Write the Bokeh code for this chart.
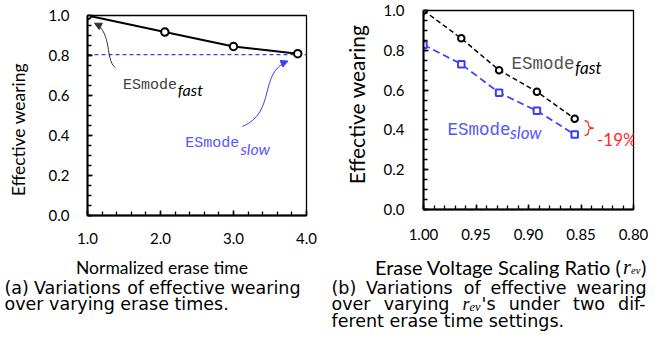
import numpy as np
from bokeh.plotting import figure
from bokeh.layouts import row, column
from bokeh.models import Range1d, FixedTicker, PrintfTickFormatter, Label, Arrow, NormalHead
from bokeh.core.properties import value
from bokeh.embed import file_html
from bokeh.resources import INLINE

# ---------------- data ----------------
erase_time = [1.0, 2.06, 3.0, 3.88]
wear_vs_time = [1.0, 0.917, 0.845, 0.809]
wear_slow_level = 0.804

r_ev = [1.00, 0.964, 0.928, 0.892, 0.856]
wear_fast = [1.00, 0.86, 0.70, 0.592, 0.456]
wear_slow = [0.828, 0.73, 0.587, 0.496, 0.377]

a_xticks = [1.0, 2.0, 3.0, 4.0]
b_xticks = [1.00, 0.95, 0.90, 0.85, 0.80]
y_ticks = [0.0, 0.2, 0.4, 0.6, 0.8, 1.0]
drop_label = "-19%"
y_title = "Effective wearing"

caption_a_l1 = ["(a)", "Variations", "of", "effective", "wearing"]
caption_a_l2 = "over varying erase times."
caption_b_l1 = ["(b)", "Variations", "of", "effective", "wearing"]
caption_b_l2 = ["over", "varying", "r|ev|'s", "under", "two", "dif-"]
caption_b_l3 = "ferent erase time settings."

# ---------------- layout constants (pixel coords of the picture) ----------------
DX = -14                      # panel (b) is moved left so that it fits the 648px page
FA = dict(l=87, r=306, t=15, b=215)
FB = dict(l=437 + DX, r=647 + DX, t=10, b=209)
SPLIT_A, SPLIT_B = 250, 246
COL_A, TOTAL_W, TOTAL_H = 330, 648, 337

BLUE = "#3c3cff"
TXT_BLUE = "#5656ff"
RED = "#ff2a2a"
TICK_FONT = "Lato"
CAP_FONT = "DejaVu Sans"
CAP_SIZE = 17.5


# reading scales (pixel of reference -> data) used for in-plot annotations
def ax_(px):
    return 1 + 3 * (px - 87.3) / (306 - 87.3)


def ay_(py):
    return (215 - py) / 200.0


def bx_(px):
    return 1 - 0.2 * (px - 437) / 210.0


def by_(py):
    return (209.3 - py) / 200.0


def style(p, xticks, xminor, xfmt, size, xstand, ystand):
    p.xgrid.visible = False
    p.ygrid.visible = False
    p.outline_line_color = "black"
    p.outline_line_width = 1.3
    p.background_fill_color = "white"
    p.border_fill_color = "white"
    p.xaxis.ticker = FixedTicker(ticks=xticks, minor_ticks=xminor)
    p.yaxis.ticker = FixedTicker(ticks=y_ticks, minor_ticks=list(np.round(np.arange(0, 1.0001, 0.05), 2)))
    p.xaxis.formatter = PrintfTickFormatter(format=xfmt)
    p.yaxis.formatter = PrintfTickFormatter(format="%.1f")
    for axis, stand in ((p.xaxis[0], xstand), (p.yaxis[0], ystand)):
        axis.axis_label = None
        axis.axis_label_standoff = 0
        axis.axis_line_width = 2
        axis.axis_line_color = "black"
        axis.major_tick_in = 5
        axis.major_tick_out = 0
        axis.minor_tick_in = 4
        axis.minor_tick_out = 0
        axis.major_tick_line_width = 1.5
        axis.minor_tick_line_width = 1.3
        axis.major_tick_line_color = "black"
        axis.minor_tick_line_color = "black"
        axis.major_label_text_font = TICK_FONT
        axis.major_label_text_font_size = size
        axis.major_label_text_color = "black"
        axis.major_label_standoff = stand


def chart(ox, oy, w, h, F, xr):
    return figure(width=w, height=h, x_range=xr, y_range=Range1d(0, 1),
                  output_backend="svg", toolbar_location=None,
                  min_border_left=F["l"] - ox, min_border_right=ox + w - F["r"],
                  min_border_top=F["t"] - oy, min_border_bottom=oy + h - F["b"])


class Blank:
    """A figure whose frame is its whole canvas; coordinates given in picture pixels."""

    def __init__(self, ox, oy, w, h):
        self.ox, self.oy, self.h = ox, oy, h
        self.p = figure(width=w, height=h, x_range=Range1d(0, w), y_range=Range1d(0, h),
                        output_backend="svg", toolbar_location=None,
                        x_axis_location=None, y_axis_location=None,
                        min_border_left=0, min_border_right=0, min_border_top=0, min_border_bottom=0)
        self.p.grid.visible = False
        self.p.outline_line_color = None
        self.p.background_fill_color = "white"
        self.p.border_fill_color = "white"

    def put(self, px, py, text, font=CAP_FONT, size=CAP_SIZE, color="black", style_="normal",
            align="left", baseline="alphabetic", angle=0.0):
        self.p.text(x=[px - self.ox], y=[self.oy + self.h - py], text=[text],
                    text_font=value(font), text_font_size=value(f"{size}px"),
                    text_color=color, text_font_style=value(style_), text_align=value(align),
                    text_baseline=value(baseline), angle=angle)


# DejaVu Sans advance widths (1/1000 em)
AW = {' ': 318, '(': 390, ')': 390, 'a': 613, 'b': 635, 'c': 550, 'd': 635, 'e': 615, 'f': 352,
      'g': 635, 'i': 278, 'm': 974, 'n': 634, 'o': 612, 'r': 411, 's': 521, 't': 392, 'u': 634,
      'v': 592, 'w': 818, 'y': 592, 'V': 684, '.': 318, "'": 275, '-': 361}
R_SIZE, SUB_SIZE = 18, 12.5


def tw(s, size=CAP_SIZE):
    return sum(AW[c] for c in s) * size / 1000.0


def word_w(word):
    if "|" in word:
        r, sub, rest = word.split("|")
        return 389 * R_SIZE / 1000 + 888 * SUB_SIZE / 1000 + 1 + tw(rest)
    return tw(word)


def add_justified(b, words, left, right, base):
    widths = [word_w(w) for w in words]
    gap = (right - left - sum(widths)) / (len(words) - 1)
    x = left
    for w, wd in zip(words, widths):
        if "|" in w:
            r, sub, rest = w.split("|")
            b.put(x, base, r, font="Liberation Serif", size=R_SIZE, style_="italic")
            xs = x + 389 * R_SIZE / 1000
            b.put(xs, base + 3, sub, font="Liberation Serif", size=SUB_SIZE, style_="italic")
            xs += 888 * SUB_SIZE / 1000 + 1
            b.put(xs, base, rest)
        else:
            b.put(x, base, w)
        x += wd + gap


def note(p, x, y, text, font, size, color="black", style_="normal"):
    p.add_layout(Label(x=x, y=y, text=text, text_font=font, text_font_size=f"{size}px",
                       text_color=color, text_font_style=style_, text_baseline="alphabetic"))


# ---------------- figure (a) ----------------
SA_W = 36
sa = Blank(0, 0, SA_W, SPLIT_A)
pa = chart(SA_W, 0, COL_A - SA_W, SPLIT_A, FA, Range1d(1, 4))
style(pa, a_xticks, list(np.round(np.arange(1, 4.001, 0.2), 2)), "%.1f", "15px", 17, 18)

pa.line([a_xticks[0], a_xticks[-1]], [wear_slow_level, wear_slow_level], line_color=BLUE,
        line_width=1.2, line_dash="4 3")
pa.line(erase_time, wear_vs_time, line_color="black", line_width=2)
pa.scatter(erase_time, wear_vs_time, size=7.5, marker="circle", fill_color="white",
           line_color="black", line_width=2)

pa.bezier(x0=[ax_(115)], y0=[ay_(67)], x1=[ax_(95)], y1=[ay_(23)],
          cx0=[ax_(105)], cy0=[ay_(60)], cx1=[ax_(112)], cy1=[ay_(32)],
          line_color="#333333", line_width=1)
pa.add_layout(Arrow(end=NormalHead(size=7, fill_color="#333333", line_color="#333333"),
                    x_start=ax_(100), y_start=ay_(25.6), x_end=ax_(94.3), y_end=ay_(22.7),
                    line_alpha=0))
pa.bezier(x0=[ax_(242)], y0=[ay_(126)], x1=[ax_(287)], y1=[ay_(61)],
          cx0=[ax_(276)], cy0=[ay_(112)], cx1=[ax_(258)], cy1=[ay_(72)],
          line_color=BLUE, line_width=1)
pa.add_layout(Arrow(end=NormalHead(size=7, fill_color=BLUE, line_color=BLUE),
                    x_start=ax_(281), y_start=ay_(63.3), x_end=ax_(287.5), y_end=ay_(60.6),
                    line_alpha=0))

note(pa, ax_(122.7), ay_(85), "ESmode", "Liberation Mono", 15, "#404040")
note(pa, ax_(177.5), ay_(88.5), "fast", "Lato", 16, "black", "italic")
note(pa, ax_(185), ay_(143.3), "ESmode", "Liberation Mono", 15, TXT_BLUE)
note(pa, ax_(240), ay_(148), "slow", "Lato", 16, TXT_BLUE, "italic")

sa.put(17.5, 129, y_title, font="Lato", size=17.5, align="center",
       baseline="middle", angle=np.pi / 2)

ca = Blank(0, SPLIT_A, COL_A, TOTAL_H - SPLIT_A)
ca.put(161.5, 267, "Normalized erase time", font="Lato", size=17.5, align="center")
add_justified(ca, caption_a_l1, 4, 300, 287)
ca.put(4, 303.5, caption_a_l2)

# ---------------- figure (b) ----------------
SB_W = 42
sb = Blank(COL_A, 0, SB_W, SPLIT_B)
pb = chart(COL_A + SB_W, 0, TOTAL_W - COL_A - SB_W, SPLIT_B, FB, Range1d(1.0, 0.8))
style(pb, b_xticks, list(np.round(np.arange(0.8, 1.0001, 0.01), 2)), "%.2f", "15px", 19, 19)

pb.line(r_ev, wear_fast, line_color="black", line_width=1.5, line_dash="5 3")
pb.line(r_ev, wear_slow, line_color=BLUE, line_width=1.7, line_dash="7 4")
pb.scatter(r_ev, wear_fast, size=6.5, marker="circle", fill_color="white", line_color="black",
           line_width=2)
pb.scatter(r_ev, wear_slow, size=6.5, marker="square", fill_color="white", line_color=BLUE,
           line_width=2)

# brace spanning the gap between the two series at the last point
bx0, bx1, bxm = bx_(598), bx_(602), bx_(607)
top, bot = wear_fast[-1] - 0.01, wear_slow[-1] - 0.005
mid = (top + bot) / 2
q = 0.02
pb.quadratic(x0=[bx0, bx1, bx1, bxm, bx1, bx1],
             y0=[top, top - q, mid + 0.75 * q, mid, mid - 0.75 * q, bot + q],
             x1=[bx1, bx1, bxm, bx1, bx1, bx0],
             y1=[top - q, mid + 0.75 * q, mid, mid - 0.75 * q, bot + q, bot],
             cx=[bx1, bx1, bx1, bx1, bx1, bx1],
             cy=[top, top - q, mid, mid, mid - 0.75 * q, bot],
             line_color=RED, line_width=1.3)
note(pb, bx_(610.5), by_(139), drop_label, "Lato", 17, RED)

note(pb, bx_(525), by_(63.3), "ESmode", "Liberation Mono", 17.5, "#505050")
note(pb, bx_(588.5), by_(66.5), "fast", "Lato", 17, "black", "italic")
note(pb, bx_(461), by_(129), "ESmode", "Liberation Mono", 17.5, TXT_BLUE)
note(pb, bx_(523.5), by_(132), "slow", "Lato", 17, TXT_BLUE, "italic")

sb.put(369.5 + DX, 104, y_title, font="Lato", size=21, align="center",
       baseline="middle", angle=np.pi / 2)

XL_R = 621   # right end of the plain part of the x title of (b)
cb = Blank(COL_A, SPLIT_B, TOTAL_W - COL_A, TOTAL_H - SPLIT_B)
cb.put(XL_R, 266, "Erase Voltage Scaling Ratio (", font="Lato", size=20, align="right")
cb.put(XL_R + 1.5, 266, "r", font="Liberation Serif", size=20.5, style_="italic")
cb.put(XL_R + 9.5, 269.5, "ev", font="Liberation Serif", size=10.5, style_="italic")
cb.put(XL_R + 19.5, 266, ")", font="Lato", size=20)
add_justified(cb, caption_b_l1, 331, 646, 287)
add_justified(cb, caption_b_l2, 331, 646, 303.5)
cb.put(331, 320, caption_b_l3)

# wrapping each text strip in its own column keeps Bokeh from aligning its frame with the chart
layout = row(column(row(column(sa.p), pa), ca.p), column(row(column(sb.p), pb), cb.p))
open("out.html", "w").write(file_html(layout, INLINE))
